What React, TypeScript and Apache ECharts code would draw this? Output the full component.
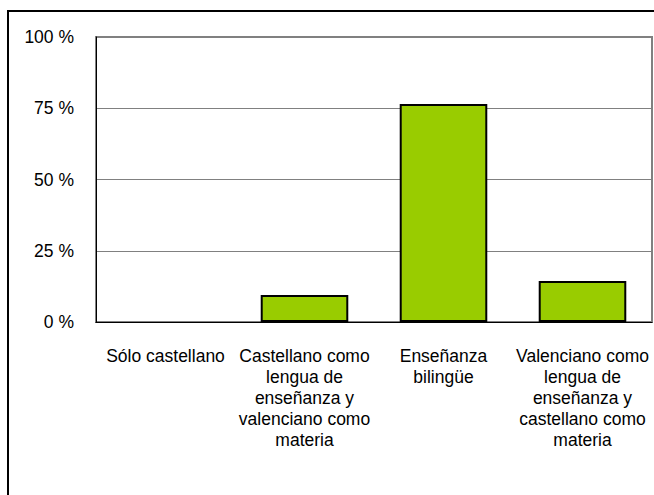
import React, { useEffect, useRef } from "react";
import * as echarts from "echarts";

const categories = [
  "Sólo castellano",
  "Castellano como\nlengua de\nenseñanza y\nvalenciano como\nmateria",
  "Enseñanza\nbilingüe",
  "Valenciano como\nlengua de\nenseñanza y\ncastellano como\nmateria",
];
const values = [0, 9.5, 76.5, 14.4];

const FONT = "'Liberation Sans', Arial, sans-serif";

export default function App() {
  const ref = useRef<HTMLDivElement>(null);
  useEffect(() => {
    const chart = echarts.init(ref.current!, null, { renderer: "svg" });
    chart.setOption({
      animation: false,
      backgroundColor: "#ffffff",
      textStyle: { fontFamily: FONT },
      grid: {
        left: 96,
        top: 37,
        right: 2,
        bottom: 173,
        show: true,
        borderColor: "#808080",
        borderWidth: 2,
        containLabel: false,
      },
      xAxis: {
        type: "category",
        data: categories,
        axisLine: { show: true, lineStyle: { color: "#000", width: 1 } },
        axisTick: { show: false },
        axisLabel: {
          interval: 0,
          color: "#000",
          fontSize: 17.5,
          lineHeight: 21,
          margin: 23,
          fontFamily: FONT,
        },
      },
      yAxis: {
        type: "value",
        min: 0,
        max: 100,
        interval: 25,
        axisLine: { show: true, lineStyle: { color: "#000", width: 1 } },
        axisTick: { show: false },
        splitLine: { show: true, lineStyle: { color: "#808080", width: 1 } },
        axisLabel: {
          formatter: "{value} %",
          color: "#000",
          fontSize: 17.5,
          margin: 22,
          fontFamily: FONT,
        },
      },
      series: [
        {
          type: "bar",
          data: values.map((v) => ({
            value: v,
            itemStyle: v === 0 ? { borderWidth: 0 } : undefined,
          })),
          barWidth: "63%",
          itemStyle: { color: "#99cc00", borderColor: "#000", borderWidth: 2 },
        },
      ],
      graphic: [
        {
          type: "rect",
          shape: { x: 8, y: 11, width: 700, height: 600 },
          style: { fill: "none", stroke: "#000", lineWidth: 2 },
          silent: true,
        },
      ],
    });
    return () => chart.dispose();
  }, []);
  return (
    <div
      ref={ref}
      style={{ position: "fixed", left: 0, top: 0, width: 654, height: 495 }}
    />
  );
}
